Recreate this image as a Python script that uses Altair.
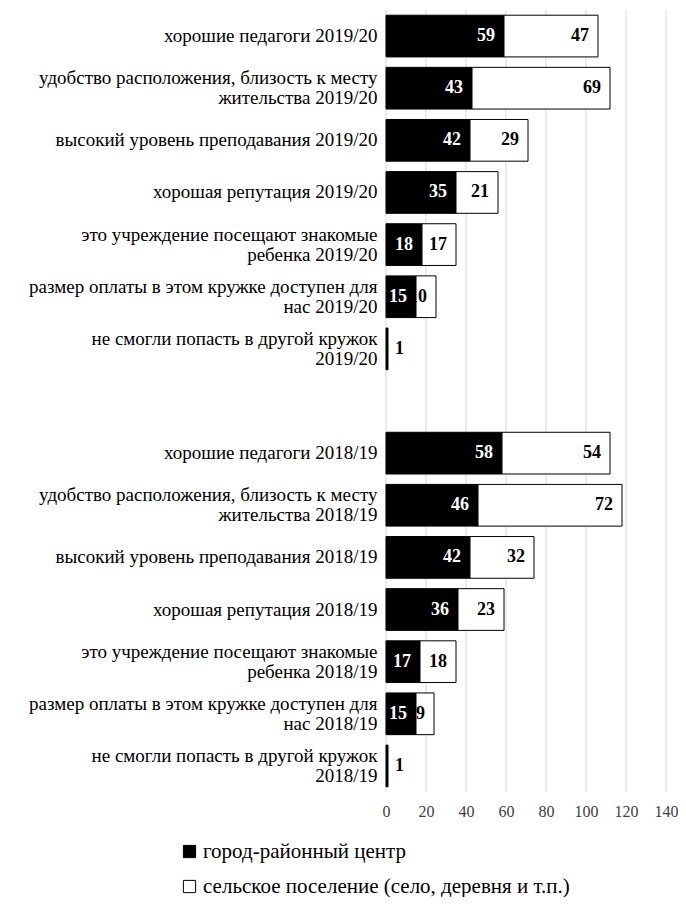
import altair as alt
import pandas as pd

categories = [
    "хорошие педагоги 2019/20",
    "удобство расположения, близость к месту|жительства 2019/20",
    "высокий уровень преподавания 2019/20",
    "хорошая  репутация 2019/20",
    "это учреждение посещают  знакомые|ребенка 2019/20",
    "размер оплаты в этом кружке доступен для|нас 2019/20",
    "не смогли попасть в другой кружок|2019/20",
    "хорошие педагоги 2018/19",
    "удобство расположения, близость к месту|жительства 2018/19",
    "высокий уровень преподавания 2018/19",
    "хорошая  репутация 2018/19",
    "это учреждение посещают  знакомые|ребенка 2018/19",
    "размер оплаты в этом кружке доступен для|нас 2018/19",
    "не смогли попасть в другой кружок|2018/19",
]
city = [59, 43, 42, 35, 18, 15, 1, 58, 46, 42, 36, 17, 15, 1]
rural = [47, 69, 29, 21, 17, 10, 0, 54, 72, 32, 23, 18, 9, 0]
series_names = ["город-районный центр", "сельское поселение (село, деревня и т.п.)"]
x_ticks = [0, 20, 40, 60, 80, 100, 120, 140]
spacer = " "

rows = []
for cat, c, r in zip(categories, city, rural):
    rows.append(dict(cat=cat, series=series_names[0], value=c, start=0, end=c))
    rows.append(dict(cat=cat, series=series_names[1], value=r, start=c, end=c + r))
df = pd.DataFrame(rows)
grid_df = pd.DataFrame({"tick": x_ticks})

y_domain = categories[:7] + [spacer] + categories[7:]
FONT = "Liberation Serif"

y_scale = alt.Scale(domain=y_domain, paddingInner=0.2, paddingOuter=0.1)
x_scale = alt.Scale(domain=[0, 140], nice=False)

y_axis = alt.Axis(
    title=None,
    labelExpr="split(datum.value, '|')",
    labelFont=FONT,
    labelFontSize=19,
    labelLineHeight=20,
    labelColor="black",
    labelPadding=9,
    labelLimit=400,
    labelOffset={
        "condition": {"test": "indexof(datum.value, '|') >= 0", "value": -10},
        "value": 0,
    },
    domain=False,
    ticks=False,
    grid=False,
    minExtent=378,
    maxExtent=378,
)
x_axis = alt.Axis(
    values=x_ticks,
    title=None,
    domain=False,
    ticks=False,
    grid=False,
    labelOverlap=False,
    labelFlush=False,
    labelFont=FONT,
    labelFontSize=16,
    labelColor="#404040",
    labelPadding=11,
)

grid = alt.Chart(grid_df).mark_rule(color="#d9d9d9", strokeWidth=1).encode(
    x=alt.X("tick:Q", scale=x_scale, axis=x_axis)
)

base = alt.Chart(df)

bars = base.transform_filter("datum.value > 0").mark_bar(
    stroke="black", strokeWidth=1
).encode(
    y=alt.Y("cat:N", scale=y_scale, axis=y_axis),
    x=alt.X("start:Q", scale=x_scale, axis=x_axis),
    x2="end:Q",
    fill=alt.Fill(
        "series:N",
        scale=alt.Scale(domain=series_names, range=["black", "white"]),
        legend=alt.Legend(
            title=None,
            orient="none",
            legendX=-207,
            legendY=831,
            direction="vertical",
            symbolType="square",
            symbolSize=150,
            symbolStrokeColor="black",
            symbolStrokeWidth=1,
            labelFont=FONT,
            labelFontSize=21,
            labelColor="black",
            labelLimit=500,
            labelOffset=3,
            rowPadding=13,
        ),
    ),
)

inside = base.transform_filter("datum.value >= 3").mark_text(
    align="right", baseline="middle", dx=-9, font=FONT, fontSize=18, fontWeight="bold"
).encode(
    y=alt.Y("cat:N", scale=y_scale, axis=y_axis),
    x=alt.X("end:Q", scale=x_scale, axis=x_axis),
    text="value:Q",
    color=alt.Color(
        "series:N",
        scale=alt.Scale(domain=series_names, range=["white", "black"]),
        legend=None,
    ),
)

outside = base.transform_filter("datum.value > 0 && datum.value < 3").mark_text(
    align="left", baseline="middle", dx=7, font=FONT, fontSize=18, fontWeight="bold",
    color="black",
).encode(
    y=alt.Y("cat:N", scale=y_scale, axis=y_axis),
    x=alt.X("end:Q", scale=x_scale, axis=x_axis),
    text="value:Q",
)

chart = (
    alt.layer(grid, bars, inside, outside)
    .properties(width=280, height=782, padding={"left": 0, "top": 1, "right": 0, "bottom": 0})
    .configure(font=FONT)
    .configure_view(stroke=None)
)

chart.save("out.html", embed_options={"renderer": "svg", "actions": False})
